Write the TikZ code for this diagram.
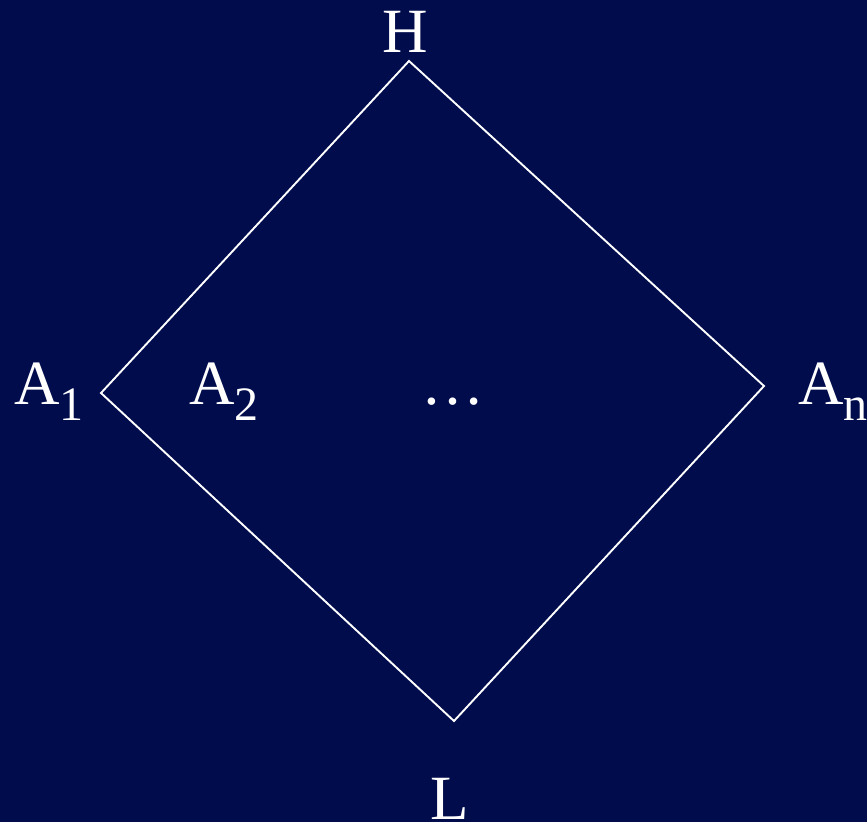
\documentclass[tikz,border=0pt]{standalone}
\usepackage{fontspec}
\setmainfont{Liberation Serif}
\definecolor{navy}{RGB}{0,12,76}
\newcommand{\bigtxt}{\fontsize{63}{63}\selectfont}
\newcommand{\subtxt}[1]{\raisebox{-16pt}{\fontsize{48}{48}\selectfont #1}}
\begin{document}
\begin{tikzpicture}[x=1pt,y=-1pt,
  lbl/.style={text=white,inner sep=0pt,font=\bigtxt},
  edge/.style={draw=white,line width=1.9pt,line join=miter}]
\fill[navy] (0,0) rectangle (867,822);
\useasboundingbox (0,0) rectangle (867,822);
\coordinate (top) at (409,61);
\coordinate (left) at (101,393);
\coordinate (bot) at (454,721);
\coordinate (right) at (764,386);
\draw[edge] (top) -- (right) -- (bot) -- (left) -- cycle;
\node[lbl,anchor=base] (H) at (405,52) {H};
\node[lbl,anchor=base west] (A1) at (14,404) {A\subtxt{1}};
\node[lbl,anchor=base west] (A2) at (189,404) {A\subtxt{2}};
\node[lbl,anchor=base] (dots) at (453,404) {\dots};
\node[lbl,anchor=base west] (An) at (798,404) {A\subtxt{n}};
\node[lbl,anchor=base] (L) at (450,819) {L};
\end{tikzpicture}
\end{document}
